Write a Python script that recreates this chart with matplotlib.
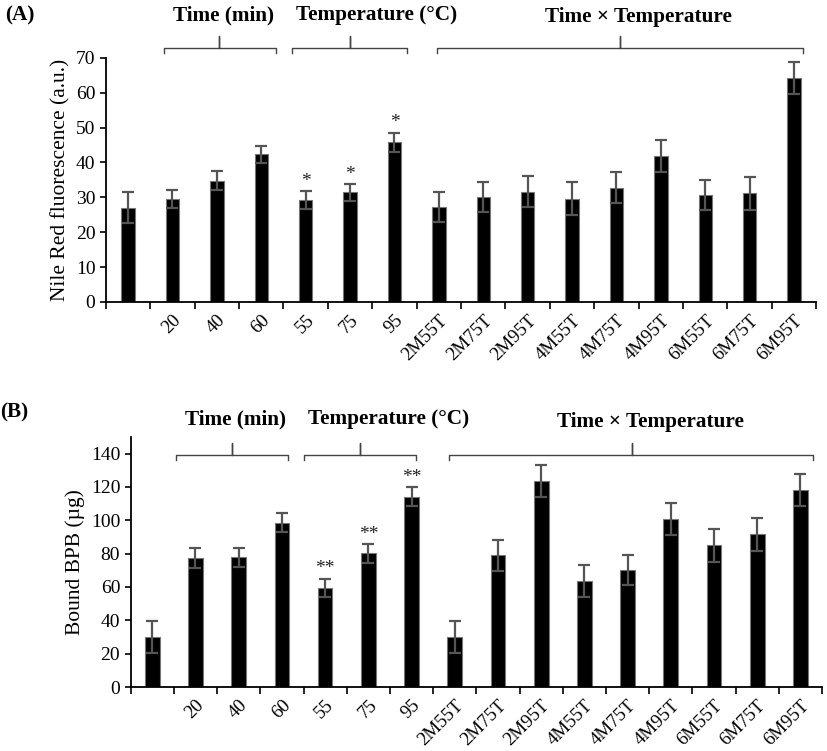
import numpy as np
import matplotlib
matplotlib.use('Agg')
import matplotlib.pyplot as plt
import matplotlib.transforms as mtransforms

# Categorias
labels = ['', '20', '40', '60', '55', '75', '95',
          '2M55T', '2M75T', '2M95T', '4M55T', '4M75T', '4M95T',
          '6M55T', '6M75T', '6M95T']

# Panel A: Nile Red
nile_red = [27.0, 29.4, 34.8, 42.3, 29.2, 31.4, 45.8,
            27.2, 30.0, 31.6, 29.6, 32.8, 41.9, 30.8, 31.1, 64.2]
nile_red_err = [4.5, 2.6, 2.6, 2.4, 2.5, 2.4, 2.7,
                4.3, 4.3, 4.4, 4.7, 4.4, 4.6, 4.3, 4.7, 4.5]
stars_a = {4: '*', 5: '*', 6: '*'}

# Panel B: Bound BPB
bpb = [30.2, 77.2, 77.8, 98.6, 59.6, 80.2, 114.2,
       30.2, 79.0, 123.8, 63.6, 70.2, 100.6, 85.0, 91.6, 118.2]
bpb_err = [9.6, 6.0, 5.6, 5.7, 5.4, 5.6, 5.6,
           9.6, 9.2, 9.6, 9.6, 9.2, 9.6, 9.8, 10.0, 9.8]
stars_b = {4: '**', 5: '**', 6: '**'}

# Grupos (inicio, fin, centro en unidades de categoria)
groups_a = [(0.8, 3.33, 2.05), (3.7, 6.28, 5.0), (6.95, 15.2, 11.08)]
groups_b = [(0.55, 3.14, 1.85), (3.5, 6.1, 4.8), (6.86, 15.3, 11.1)]

plt.rcParams['font.family'] = ['Liberation Serif', 'DejaVu Serif']


def panel(ax, values, errs, stars, ylim, yticks, ylabel, width, groups, by, bd, bu):
    x = np.arange(len(values))
    ax.bar(x, values, width=width, color='black', edgecolor='#777777', linewidth=0.8, zorder=2)
    ax.errorbar(x, values, yerr=errs, fmt='none', ecolor='#555555',
                elinewidth=1.6, capsize=4.5, capthick=1.6, zorder=3)
    for i, s in stars.items():
        ax.annotate(s, (x[i], values[i] + errs[i]), xytext=(0, 1),
                    textcoords='offset points', ha='center', va='bottom',
                    fontsize=14, color='#222222')
    ax.set_xlim(-0.5, len(values) - 0.5)
    ax.set_ylim(*ylim)
    ax.set_yticks(yticks)
    ax.set_xticks(x)
    ax.set_xticklabels(labels, rotation=45, ha='right', va='top',
                       rotation_mode='anchor', fontsize=13.5)
    ax.set_xticks(np.arange(-0.5, len(values)), minor=True)
    ax.tick_params(axis='x', which='major', length=0, pad=7)
    ax.tick_params(axis='x', which='minor', length=5, width=1.2)
    ax.tick_params(axis='y', labelsize=14, length=4, width=1.2)
    for side in ['top', 'right']:
        ax.spines[side].set_visible(False)
    for side in ['left', 'bottom']:
        ax.spines[side].set_linewidth(1.3)
    ax.set_ylabel(ylabel, fontsize=15.5)

    # Llaves de agrupacion
    trans = mtransforms.blended_transform_factory(ax.transData, ax.transAxes)
    for x0, x1, xc in groups:
        ax.plot([x0, x0, xc, xc, xc, x1, x1], [bd, by, by, bu, by, by, bd],
                color='#444444', lw=1.0, transform=trans, clip_on=False)


fig = plt.figure(figsize=(8.27, 7.51), dpi=100)
ax_a = fig.add_axes([0.128, 0.598, 0.859, 0.325])
ax_b = fig.add_axes([0.158, 0.0852, 0.836, 0.333])

panel(ax_a, nile_red, nile_red_err, stars_a, (0, 70), np.arange(0, 71, 10),
      'Nile Red fluorescence (a.u.)', 0.3, groups_a, 1.041, 1.020, 1.09)
panel(ax_b, bpb, bpb_err, stars_b, (0, 150), np.arange(0, 141, 20),
      'Bound BPB (µg)', 0.34, groups_b, 0.928, 0.908, 0.976)

# Titulos
tk = dict(fontsize=15.3, fontweight='bold', va='center')
fig.text(0.006, 0.980, '(A)', ha='left', **tk)
fig.text(0.270, 0.980, 'Time (min)', ha='center', **tk)
fig.text(0.455, 0.980, 'Temperature (°C)', ha='center', **tk)
fig.text(0.772, 0.978, 'Time × Temperature', ha='center', **tk)

fig.text(0.0, 0.451, '(B)', ha='left', **tk)
fig.text(0.285, 0.442, 'Time (min)', ha='center', **tk)
fig.text(0.470, 0.442, 'Temperature (°C)', ha='center', **tk)
fig.text(0.787, 0.438, 'Time × Temperature', ha='center', **tk)

fig.savefig('out.png', dpi=100)
